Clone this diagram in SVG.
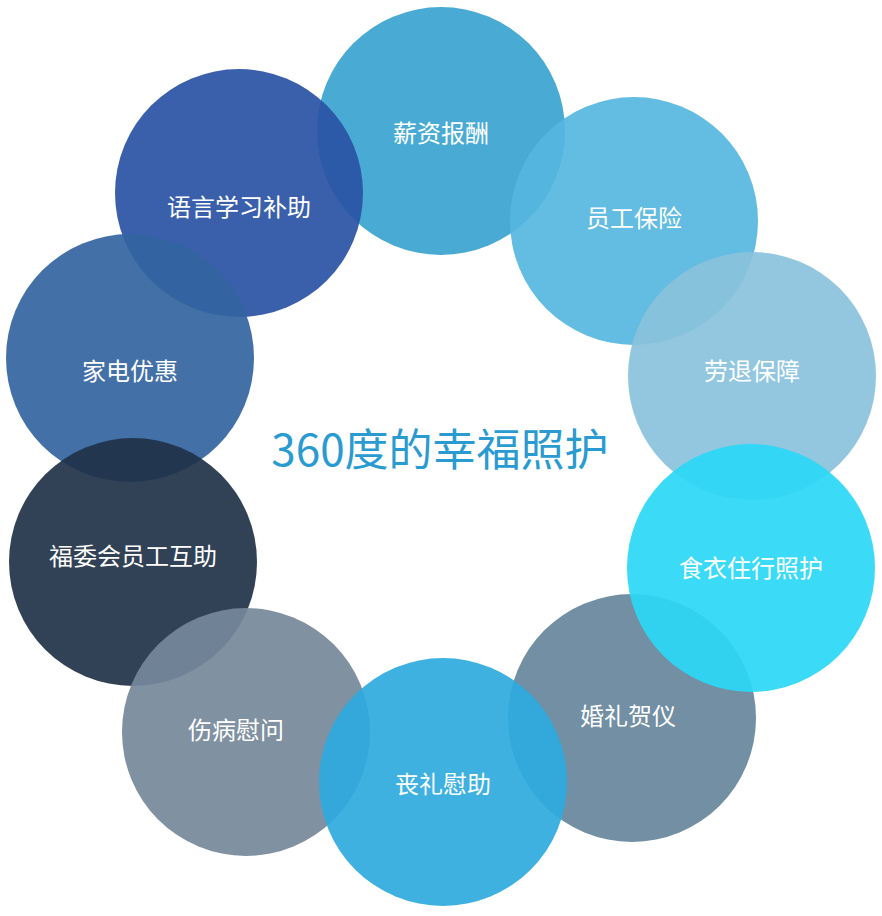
<svg xmlns="http://www.w3.org/2000/svg" width="882" height="916" viewBox="0 0 882 916">
<style>
.c{opacity:0.92}
.t{font-family:"Noto Sans CJK SC","Noto Sans",sans-serif;font-size:24px;fill:#fff;text-anchor:middle;dominant-baseline:central}
.h{font-family:"Noto Sans CJK SC","Noto Sans",sans-serif;font-size:44px;fill:#2a9bd0;text-anchor:middle;dominant-baseline:central}
</style>
<rect width="882" height="916" fill="#fff"/>
<g id="connectors"></g>
<g id="n1"><circle class="c" cx="441" cy="131" r="124" fill="#3aa4cf"/><text class="t" x="441" y="131">薪资报酬</text></g>
<g id="n10"><circle class="c" cx="239" cy="193" r="124" fill="#2a52a4"/><text class="t" x="239" y="205">语言学习补助</text></g>
<g id="n2"><circle class="c" cx="634" cy="221" r="124" fill="#56b6de"/><text class="t" x="634" y="216">员工保险</text></g>
<g id="n3"><circle class="c" cx="752" cy="376" r="124" fill="#8ac2dc"/><text class="t" x="752" y="369">劳退保障</text></g>
<g id="n9"><circle class="c" cx="130" cy="358" r="124" fill="#33649e"/><text class="t" x="130" y="369">家电优惠</text></g>
<g id="n8"><circle class="c" cx="133" cy="562" r="124" fill="#1f3248"/><text class="t" x="133" y="554">福委会员工互助</text></g>
<g id="n5"><circle class="c" cx="632" cy="718" r="124" fill="#66869c"/><text class="t" x="628" y="714">婚礼贺仪</text></g>
<g id="n4"><circle class="c" cx="751" cy="568" r="124" fill="#2ad8f6"/><text class="t" x="751" y="566">食衣住行照护</text></g>
<g id="n7"><circle class="c" cx="246" cy="732" r="124" fill="#75889a"/><text class="t" x="236" y="728">伤病慰问</text></g>
<g id="n6"><circle class="c" cx="443" cy="782" r="124" fill="#2eaade" opacity="0.85"/><text class="t" x="443" y="782">丧礼慰助</text></g>
<g id="title"><text class="h" x="440" y="447">360度的幸福照护</text></g>
</svg>
